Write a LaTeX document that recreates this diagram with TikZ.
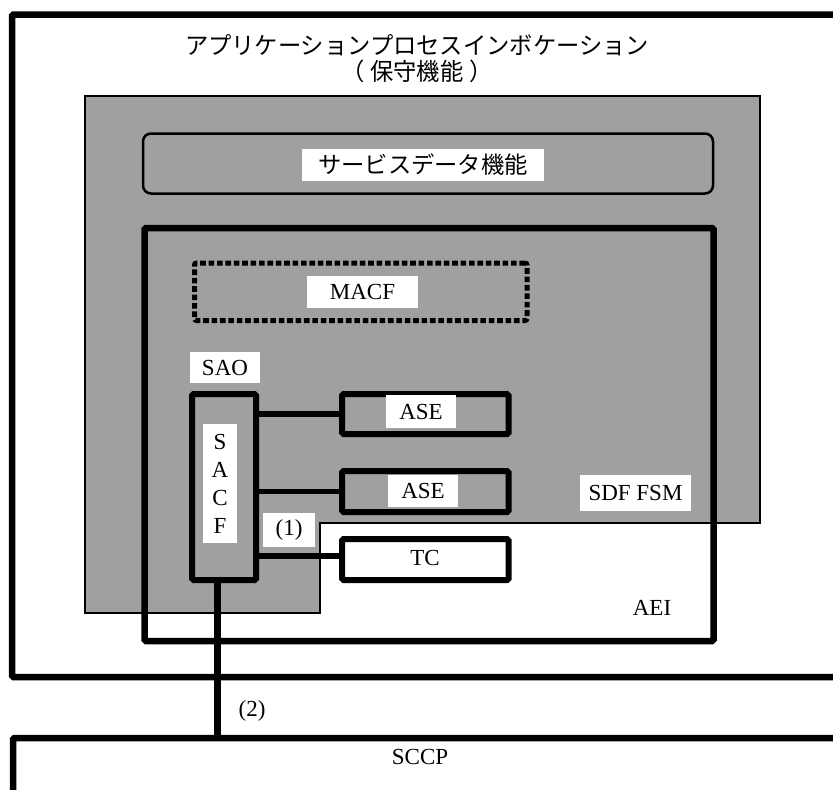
\documentclass[tikz,border=0pt]{standalone}
\usepackage{fontspec}
\setmainfont{Liberation Serif}
\newfontfamily\jpfont{Noto Sans CJK JP}
\newfontfamily\jptitlefont[FakeStretch=0.97]{Noto Sans CJK JP}
\usetikzlibrary{calc}
\definecolor{regiongray}{RGB}{160,160,160}
\tikzset{
  heavybox/.style={draw, line width=6.5pt, rounded corners=1.5pt, inner sep=0pt},
  midbox/.style={draw, line width=6pt, rounded corners=1.5pt, inner sep=0pt},
  whitelabel/.style={fill=white, inner sep=0pt},
  plainlabel/.style={inner sep=0pt},
  link/.style={line width=5.5pt},
}
\begin{document}
\begin{tikzpicture}[x=1pt,y=-1pt,font=\fontsize{23}{26}\selectfont]
\useasboundingbox (0,0) rectangle (833,790);
\clip (0,0) rectangle (833,790);
\fill[white] (0,0) rectangle (833,790);
% outer application process invocation box
\node[heavybox, minimum width=888pt, minimum height=662.5pt] (apinv) at (456,345.75) {};
\node[plainlabel, align=center, font=\jptitlefont\fontsize{24}{26}\selectfont] (title) at (417,59)
  {アプリケーションプロセスインボケーション\\（\hspace{0.25em}保守機能\hspace{0.25em}）};
% gray SDF region
\filldraw[fill=regiongray, draw=black, line width=1.8pt]
  (85,96) -- (760,96) -- (760,523) -- (320,523) -- (320,613) -- (85,613) -- cycle;
% service data function
\node[draw, line width=2.5pt, rounded corners=8pt, inner sep=0pt,
  minimum width=570pt, minimum height=60pt] (sdata) at (428,163.5) {};
\node[whitelabel, minimum width=242pt, minimum height=32pt, font=\jpfont\fontsize{23.3}{26}\selectfont]
  (sdatalbl) at (423,165) {サービスデータ機能};
% AEI
\node[heavybox, minimum width=569pt, minimum height=413pt] (aei) at (429,434.5) {};
% MACF dashed
\node[draw, line width=5pt, dash pattern=on 5.6pt off 2.8pt, rounded corners=2pt, inner sep=0pt,
  minimum width=332.5pt, minimum height=57.5pt] (macf) at (360.75,291.75) {};
\node[whitelabel, minimum width=111pt, minimum height=32pt] (macflbl) at (362.5,292) {MACF};
% SACF
\node[midbox, minimum width=64pt, minimum height=186pt] (sacf) at (224,487) {};
\node[whitelabel, minimum width=34pt, minimum height=119pt, align=center,
  font=\fontsize{23}{28}\selectfont] (sacflbl) at (220,483.5) {S\\A\\C\\F};
\node[whitelabel, minimum width=70pt, minimum height=31pt] (sao) at (225,367.5) {SAO};
% ASE / TC
\node[midbox, minimum width=166.5pt, minimum height=40pt] (ase1) at (425.25,414) {};
\node[midbox, minimum width=166.5pt, minimum height=41pt] (ase2) at (425.25,491.5) {};
\node[midbox, fill=white, minimum width=166.5pt, minimum height=41pt] (tc) at (425.25,559.5) {};
\node[whitelabel, minimum width=70pt, minimum height=33pt] (ase1lbl) at (421,411.5) {ASE};
\node[whitelabel, minimum width=70pt, minimum height=32pt] (ase2lbl) at (423,491) {ASE};
\node[plainlabel] (tclbl) at (425,558) {TC};
% connectors
\draw[link] (sacf.east |- ase1.west) -- (ase1.west);
\draw[link] (sacf.east |- ase2.west) -- (ase2.west);
\draw[link] (sacf.east |- 0,556) -- (tc.west |- 0,556);
\node[whitelabel, minimum width=52pt, minimum height=34pt] (one) at (289,530) {(1)};
% labels
\node[whitelabel, minimum width=111pt, minimum height=36pt] (sdffsm) at (635.5,493) {SDF FSM};
\node[plainlabel] (aeilbl) at (652,608) {AEI};
% SCCP
\node[heavybox, minimum width=900pt, minimum height=200pt] (sccp) at (463,838) {};
\node[plainlabel] (sccplbl) at (420,757) {SCCP};
\coordinate (drop) at ($(sacf.south)+(-6.5,0)$);
\draw[line width=7pt] (drop) -- (drop |- sccp.north);
\node[plainlabel] (two) at (252,711) {(2)};
\end{tikzpicture}
\end{document}
